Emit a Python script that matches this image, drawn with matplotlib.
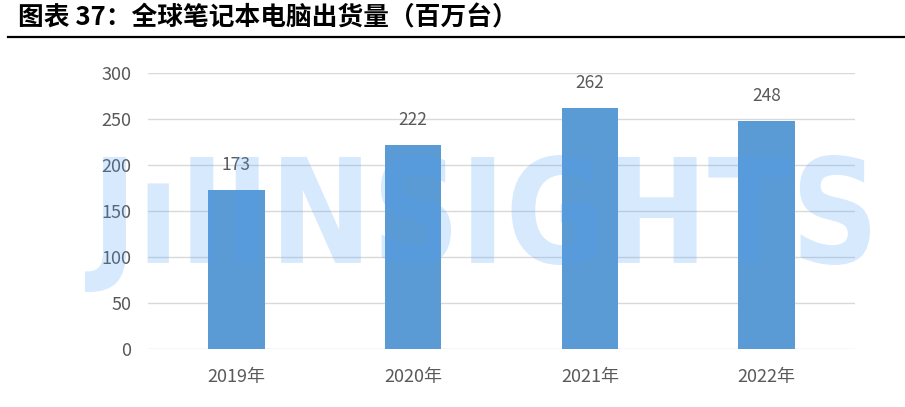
import numpy as np
import matplotlib
matplotlib.use("Agg")
import matplotlib.pyplot as plt
from matplotlib.lines import Line2D
from matplotlib.textpath import TextPath
from matplotlib.patches import PathPatch
from matplotlib.font_manager import FontProperties
from matplotlib.transforms import Affine2D

plt.rcParams['font.family'] = ['Noto Sans CJK SC', 'DejaVu Sans']

years = ['2019年', '2020年', '2021年', '2022年']
shipments = [173, 222, 262, 248]
yticks = [0, 50, 100, 150, 200, 250, 300]

W, H = 905, 407
fig = plt.figure(figsize=(W / 100, H / 100), dpi=100)
ax = fig.add_axes([148 / W, 1 - 349 / H, (855 - 148) / W, (349 - 73) / H])

x = np.arange(len(years))
ax.bar(x, shipments, width=0.32, color='#5b9bd5', zorder=2)
for xi, v in zip(x, shipments):
    ax.annotate(str(v), (xi, v), xytext=(0, 18), textcoords='offset points',
                ha='center', va='center', fontsize=12.5, color='#595959')

ax.set_xlim(-0.5, 3.5)
ax.set_ylim(0, 300)
ax.set_yticks(yticks)
ax.set_xticks(x)
ax.set_xticklabels(years)
ax.tick_params(length=0, labelsize=13, colors='#595959')
ax.tick_params(axis='y', pad=12)
ax.tick_params(axis='x', pad=14)
ax.grid(axis='y', color='#d9d9d9', linewidth=1, zorder=0)
for s in ax.spines.values():
    s.set_visible(False)

# watermark, stretched into its box
tp = TextPath((0, 0), 'JıIINSIGHTS', size=100,
              prop=FontProperties(family='DejaVu Sans', weight='bold'))
ext = tp.get_extents()
bx0, by0, bx1, by1 = 85, H - 292, 870, H - 155
tr = Affine2D().translate(-ext.x0, -ext.y0).scale((bx1 - bx0) / ext.width,
                                                   (by1 - by0) / ext.height).translate(bx0, by0)
wm = PathPatch(tr.transform_path(tp), transform=None, facecolor='#4d9ef5',
               edgecolor='none', alpha=0.22, zorder=5)
fig.add_artist(wm)

fig.text(18 / W, 1 - 18 / H, '图表 37：全球笔记本电脑出货量（百万台）', fontsize=18.5,
         fontweight='bold', ha='left', va='center', color='black')
fig.add_artist(Line2D([8 / W, 1], [1 - 37 / H, 1 - 37 / H], transform=fig.transFigure,
                      color='black', linewidth=1.6))

fig.savefig('out.png', dpi=100)
